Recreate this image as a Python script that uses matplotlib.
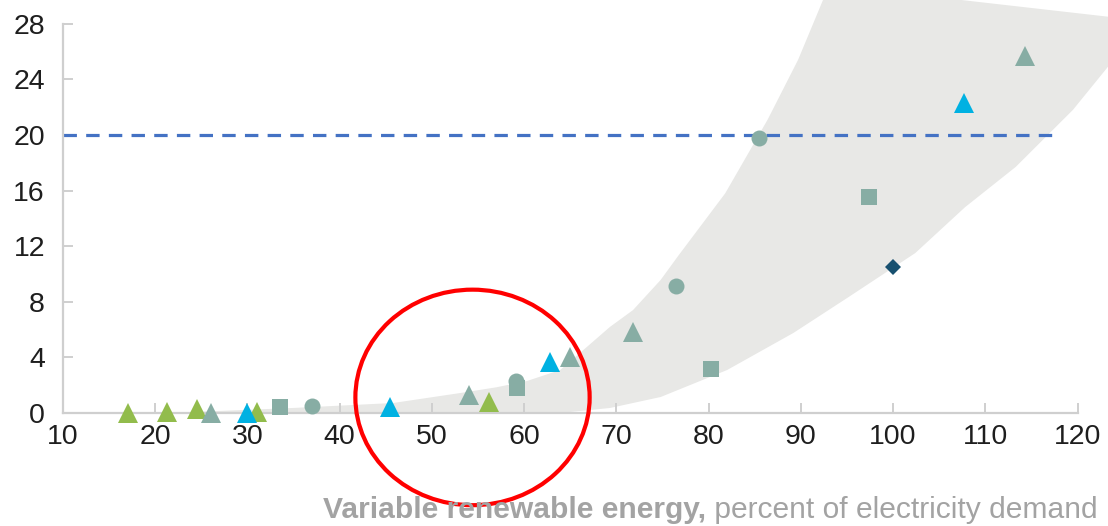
import numpy as np
import matplotlib
matplotlib.use("Agg")
import matplotlib.pyplot as plt
from matplotlib.patches import Ellipse, Polygon

plt.rcParams['font.family'] = ['Liberation Sans', 'DejaVu Sans']

# data
green_tri_x = [17, 21.3, 24.5, 31, 56.2]
green_tri_y = [0, 0.1, 0.3, 0.1, 0.8]
teal_tri_x = [26, 54, 65, 71.8, 114.3]
teal_tri_y = [0, 1.3, 4.0, 5.8, 25.7]
blue_tri_x = [30, 45.5, 62.8, 107.7]
blue_tri_y = [0, 0.4, 3.7, 22.3]
teal_sq_x = [33.5, 59.2, 80.3, 97.4]
teal_sq_y = [0.4, 1.8, 3.2, 15.5]
teal_circ_x = [37, 59.1, 76.5, 85.5]
teal_circ_y = [0.5, 2.3, 9.1, 19.8]
navy_dia_x = [100]
navy_dia_y = [10.5]

# shaded range: upper edge (left to right), then lower edge (right to left)
band_upper_x = [13.3, 24.1, 34.9, 45.8, 53.1, 57.0, 60.3, 63.9, 66.8, 69.3, 71.8, 74.8,
                76.7, 81.8, 86.4, 89.7, 92.4, 107.4, 123.3]
band_upper_y = [0.0, 0.07, 0.36, 0.72, 1.44, 1.85, 2.3, 3.09, 4.75, 6.19, 7.4, 9.57,
                11.3, 15.8, 21.1, 25.4, 29.7, 29.7, 28.5]
band_lower_x = [123.3, 119.5, 113.3, 107.8, 102.4, 95.2, 89.2, 82.0, 74.8, 69.3, 63.9, 13.3]
band_lower_y = [24.9, 21.8, 17.7, 14.8, 11.5, 8.35, 5.76, 3.09, 1.15, 0.36, 0.0, 0.0]

threshold = 20
threshold_end = 117.3

x_ticks = list(range(10, 121, 10))
y_ticks = list(range(0, 29, 4))

teal = '#87ADA4'
green = '#92BC4C'
blue = '#00B1E2'
navy = '#17506F'
axis_gray = '#CFCFCF'
text_gray = '#A3A3A3'

fig = plt.figure(figsize=(11.08, 5.26), dpi=100)
ax = fig.add_axes([63 / 1108, 113 / 526, 1045 / 1108, 413 / 526])
ax.set_xlim(10, 123.3)
ax.set_ylim(0, 29.7)

band = np.column_stack([band_upper_x + band_lower_x, band_upper_y + band_lower_y])
ax.add_patch(Polygon(band, closed=True, facecolor='#E8E8E6', edgecolor='none', zorder=1))

ax.plot([10, threshold_end], [threshold, threshold], color='#4472C4', lw=2.3,
        linestyle=(0, (4.2, 2.9)), zorder=2)

mk = dict(linestyle='none', clip_on=False, zorder=4, markeredgewidth=0)
ax.plot(green_tri_x, green_tri_y, marker='^', ms=14, color=green, **mk)
ax.plot(teal_tri_x, teal_tri_y, marker='^', ms=14, color=teal, **mk)
ax.plot(blue_tri_x, blue_tri_y, marker='^', ms=14, color=blue, **mk)
ax.plot(teal_sq_x, teal_sq_y, marker='s', ms=11, color=teal, **mk)
ax.plot(teal_circ_x, teal_circ_y, marker='o', ms=11.5, color=teal, **mk)
ax.plot(navy_dia_x, navy_dia_y, marker='D', ms=8.5, color=navy, **mk)

ax.add_patch(Ellipse((54.4, 1.12), 25.4, 15.5, facecolor='none', edgecolor='#FF0000',
                     lw=3, clip_on=False, zorder=5))

for side in ['top', 'right']:
    ax.spines[side].set_visible(False)
ax.spines['left'].set_bounds(0, 28)
ax.spines['bottom'].set_bounds(10, 120)
for side in ['left', 'bottom']:
    ax.spines[side].set_color(axis_gray)
    ax.spines[side].set_linewidth(1.6)
ax.set_xticks(x_ticks)
ax.set_yticks(y_ticks)
ax.tick_params(direction='in', length=7, width=1.4, color=axis_gray,
               labelsize=20.5, labelcolor='#1E1E1E')
ax.tick_params(axis='x', pad=8)
ax.tick_params(axis='y', pad=13)

t2 = fig.text(1098 / 1108, 8 / 526, ' percent of electricity demand', ha='right', va='baseline',
              fontsize=21.6, color=text_gray)
fig.canvas.draw()
bb = t2.get_window_extent(fig.canvas.get_renderer())
fig.text(bb.x0 / fig.bbox.width, 8 / 526, 'Variable renewable energy,', ha='right', va='baseline',
         fontsize=21.6, color=text_gray, fontweight='bold')

fig.savefig('out.png', dpi=100)
